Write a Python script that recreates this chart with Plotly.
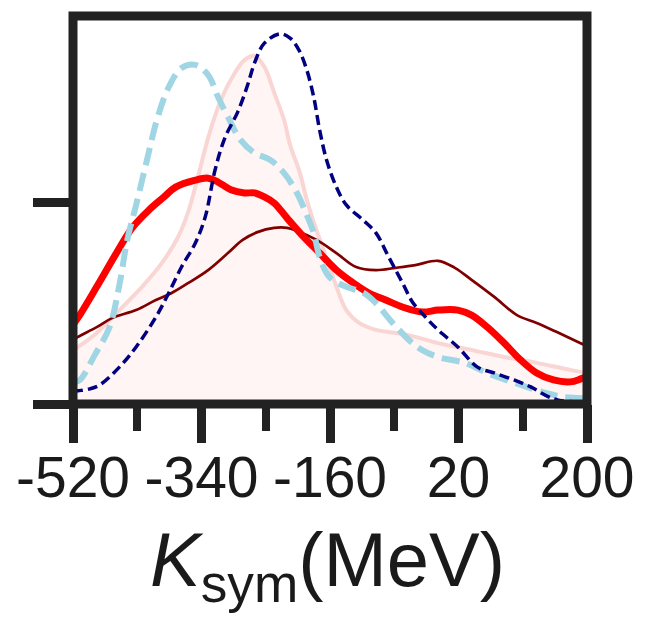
import plotly.graph_objects as go

# K_sym grid points (MeV) and density values for each distribution
k_pink = [-520, -513.1, -486.8, -455.0, -423.3, -395.6, -372.1, -358.3, -344.5, -330.7,
          -312.7, -293.4, -279.5, -265.7, -251.9, -238.1, -224.3, -216.0, -202.1, -192.5,
          -182.8, -169.0, -160.7, -151.0, -137.2, -119.2, -95.7, -68.1, -40.5, -8.7,
          38.3, 83.9, 129.5, 176.5, 200.0]
p_pink = [0.140, 0.147, 0.183, 0.242, 0.302, 0.363, 0.433, 0.497, 0.588, 0.686,
          0.784, 0.853, 0.887, 0.897, 0.869, 0.802, 0.732, 0.668, 0.595, 0.526,
          0.469, 0.397, 0.353, 0.302, 0.242, 0.209, 0.191, 0.183, 0.173, 0.157,
          0.139, 0.121, 0.106, 0.088, 0.080]

k_maroon = [-520, -513.1, -486.8, -464.7, -431.6, -403.9, -381.8, -358.3, -330.7, -303.0,
            -282.3, -261.6, -238.1, -220.1, -206.3, -178.7, -151.0, -123.4, -95.7, -68.1,
            -40.5, -8.7, 14.8, 38.3, 70.1, 101.9, 129.5, 157.1, 190.3, 200.0]
p_maroon = [0.165, 0.173, 0.198, 0.222, 0.242, 0.268, 0.286, 0.312, 0.345, 0.389,
            0.423, 0.443, 0.454, 0.454, 0.446, 0.423, 0.389, 0.353, 0.345, 0.351,
            0.358, 0.369, 0.351, 0.320, 0.276, 0.229, 0.209, 0.186, 0.157, 0.149]

k_red = [-520, -513.1, -486.8, -459.2, -437.1, -413.6, -392.9, -376.3, -348.6, -330.7,
         -316.8, -298.9, -279.5, -265.7, -251.9, -238.1, -220.1, -196.6, -174.5, -151.0,
         -127.5, -105.4, -81.9, -58.4, -30.8, -8.7, 19.0, 38.3, 60.4, 83.9,
         107.4, 129.5, 153.0, 176.5, 190.3, 200.0]
p_red = [0.205, 0.222, 0.302, 0.389, 0.454, 0.500, 0.533, 0.559, 0.577, 0.582,
         0.572, 0.552, 0.544, 0.544, 0.534, 0.518, 0.479, 0.430, 0.389, 0.345,
         0.312, 0.286, 0.268, 0.250, 0.237, 0.242, 0.242, 0.229, 0.198, 0.157,
         0.113, 0.080, 0.062, 0.057, 0.064, 0.072]

k_sky = [-520, -510.3, -489.6, -468.9, -455.0, -444.0, -431.6, -416.4, -402.5, -385.9,
         -368.0, -348.6, -330.7, -316.8, -303.0, -285.1, -265.7, -243.6, -224.3, -206.3,
         -192.5, -182.8, -174.5, -160.7, -137.2, -113.7, -95.7, -72.2, -44.6, -30.8,
         -8.7, 28.7, 60.4, 107.4, 143.4, 166.9, 200.0]
p_sky = [0.055, 0.062, 0.126, 0.198, 0.307, 0.423, 0.513, 0.629, 0.732, 0.817,
         0.866, 0.874, 0.848, 0.791, 0.740, 0.680, 0.647, 0.629, 0.595, 0.544,
         0.487, 0.441, 0.379, 0.327, 0.302, 0.287, 0.260, 0.209, 0.157, 0.139,
         0.121, 0.106, 0.080, 0.049, 0.028, 0.018, 0.015]

k_navy = [-520, -513.1, -496.5, -482.7, -455.0, -431.6, -403.9, -385.9, -368.0, -348.6,
          -334.8, -321.0, -307.2, -289.2, -275.4, -265.7, -251.9, -229.8, -215.9, -203.5,
          -192.5, -182.8, -174.5, -164.8, -151.0, -137.2, -113.7, -95.7, -77.8, -58.4,
          -44.6, -26.7, -8.7, 19.0, 46.6, 70.1, 97.7, 121.2, 143.4, 159.9, 200.0]
p_navy = [0.032, 0.034, 0.039, 0.049, 0.095, 0.147, 0.224, 0.286, 0.353, 0.415,
          0.482, 0.603, 0.686, 0.753, 0.822, 0.879, 0.930, 0.954, 0.943, 0.912,
          0.861, 0.791, 0.706, 0.629, 0.559, 0.513, 0.474, 0.441, 0.379, 0.312,
          0.263, 0.225, 0.191, 0.147, 0.095, 0.080, 0.062, 0.044, 0.021, 0.010, 0.005]

x_major = [-520, -340, -160, 20, 200]
x_minor = [-430, -250, -70, 110]
y_ticks = [0, 0.519]

INK = "#222222"

fig = go.Figure()

fig.add_trace(go.Scatter(
    x=k_pink, y=p_pink, mode="lines", line=dict(color="#f9d6d4", width=4, shape="spline"),
    fill="tozeroy", fillcolor="rgba(250,214,210,0.25)", showlegend=False))
fig.add_trace(go.Scatter(
    x=k_maroon, y=p_maroon, mode="lines",
    line=dict(color="#800000", width=2.7, shape="spline"), showlegend=False))
fig.add_trace(go.Scatter(
    x=k_red, y=p_red, mode="lines",
    line=dict(color="#ff0000", width=7, shape="spline"), showlegend=False))
fig.add_trace(go.Scatter(
    x=k_sky, y=p_sky, mode="lines",
    line=dict(color="#a0d5e3", width=6, shape="spline", dash="18px,8px"), showlegend=False))
fig.add_trace(go.Scatter(
    x=k_navy, y=p_navy, mode="lines",
    line=dict(color="#000080", width=3.5, shape="spline", dash="10px,5px"), showlegend=False))

# heavy frame around the plotting area
fig.add_shape(type="rect", xref="paper", yref="paper", x0=0, x1=1, y0=0, y1=1,
              line=dict(color=INK, width=9), layer="above")

fig.add_annotation(
    text="<i>K</i><sub>sym</sub>(MeV)", xref="paper", yref="paper",
    x=0.495, y=-0.415, xanchor="center", yanchor="middle", showarrow=False,
    font=dict(family="Liberation Sans, Arial, sans-serif", size=76, color="#1a1a1a"))

fig.update_xaxes(
    range=[-520, 200], tickmode="array", tickvals=x_major,
    ticktext=[str(v) for v in x_major],
    ticks="outside", ticklen=38, tickwidth=9, tickcolor=INK,
    minor=dict(tickmode="array", tickvals=x_minor, ticks="outside",
               ticklen=26, tickwidth=7.5, tickcolor=INK),
    ticklabelstandoff=-14,
    tickfont=dict(family="Liberation Sans, Arial, sans-serif", size=57, color="#1a1a1a"),
    showline=False, showgrid=False, zeroline=False)
fig.update_yaxes(
    range=[0, 1], tickmode="array", tickvals=y_ticks, showticklabels=False,
    ticks="outside", ticklen=39, tickwidth=9, tickcolor=INK,
    showline=False, showgrid=False, zeroline=False)

fig.update_layout(
    width=647, height=620,
    margin=dict(l=73, r=53, t=16, b=216, pad=0),
    plot_bgcolor="white", paper_bgcolor="white")

fig.write_html("out.html")
